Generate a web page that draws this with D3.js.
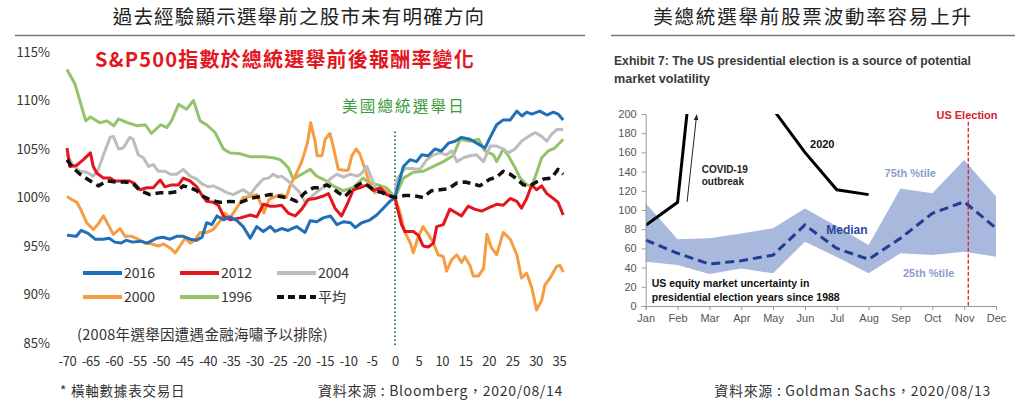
<!DOCTYPE html>
<meta charset="utf-8">
<style>
body { margin: 0; background: #fff; }
svg { display: block; }
.cjk { font-family: "Noto Sans CJK TC", "Noto Sans", sans-serif; }
.arial { font-family: "Liberation Sans", Arial, sans-serif; }
.narrow { font-family: "Liberation Sans Narrow", "Liberation Sans", Arial, sans-serif; }
.lax text { font-family: "Noto Sans CJK TC", sans-serif; font-size: 13px; fill: #333; }
.rax text { font-family: "Liberation Sans", Arial, sans-serif; font-size: 11px; fill: #555; }
.rax path, .rax line { stroke: #999; }
</style>
<body>
<script src="https://cdnjs.cloudflare.com/ajax/libs/d3/7.8.5/d3.min.js"></script>
<script>
// ---- left chart: S&P500 around election day (day, % of election-day level)
var s2016 = [[-70,96.1],[-68,96.0],[-67,96.6],[-65.5,96.3],[-64,95.7],[-62.3,95.7],[-61,95.8],[-59.8,95.4],[-58.4,95.3],[-57.4,95.6],[-56,95.4],[-54.3,95.5],[-52.9,95.3],[-50.9,95.8],[-49.5,95.9],[-48,95.7],[-46.6,96.0],[-45.2,96.0],[-43.7,95.7],[-42.3,95.6],[-41.2,95.9],[-40.2,97.4],[-39.1,97.2],[-38,98.1],[-36.6,97.7],[-35.2,98.0],[-33.7,97.6],[-32.4,97.0],[-30.9,95.8],[-29.5,97.0],[-28.1,96.5],[-26.6,97.0],[-25.6,96.5],[-24.2,96.8],[-22.8,96.6],[-21,97.0],[-19.2,96.4],[-18.1,97.6],[-16.7,97.5],[-15.3,97.9],[-13.8,98.1],[-12.4,97.2],[-11,97.5],[-9.5,97.4],[-8.5,96.9],[-7.1,97.4],[-5.3,97.7],[-3.9,98.2],[-2.5,98.9],[-1.1,99.6],[0,100],
  [0.4,100.8],[1.8,103.2],[3.2,103.9],[4.6,103.7],[5.7,104.4],[7.1,104.3],[8.5,105.0],[9.9,104.8],[11.4,105.6],[12.8,105.8],[14.2,106.2],[16,106.0],[17.8,105.5],[19.2,105.1],[20.3,106.2],[21.7,107.5],[23.1,108.0],[24.6,108.0],[26,108.9],[27.1,108.4],[28.1,108.8],[29.2,108.6],[30.9,108.9],[32.4,108.5],[33.8,108.8],[34.8,108.6],[35.9,108.0]];
var s2012 = [[-70,105.1],[-69.4,103.2],[-68,103.3],[-66.5,103.9],[-65,104.6],[-64.4,103.2],[-63.6,102.5],[-62.2,102.0],[-60.8,102.0],[-59.8,101.7],[-58,101.7],[-56.6,101.7],[-55.5,101.4],[-54.4,100.8],[-53,101.0],[-51.6,101.0],[-50.1,101.8],[-49.1,101.1],[-47.7,101.3],[-46.2,101.3],[-45.2,102.0],[-43.7,101.7],[-42.3,101.1],[-41.3,100.3],[-40.2,99.6],[-38.8,99.5],[-37.7,99.2],[-36.6,98.1],[-35.2,97.7],[-33,97.9],[-30.9,98.2],[-29.5,98.0],[-28.1,99.3],[-26.6,99.1],[-25.6,99.1],[-24.2,99.2],[-22.8,98.4],[-21.3,98.1],[-19.9,98.8],[-18.5,99.8],[-17,99.9],[-15.6,100.1],[-14.2,100.4],[-12.8,98.9],[-11.4,98.1],[-10.3,99.2],[-8.9,100.8],[-7.5,101.0],[-6,101.3],[-4.6,100.7],[-3.2,101.0],[-1.8,100.3],[0,100],
  [0.4,99.1],[1.4,97.2],[2.1,96.5],[3.9,96.5],[5,96.1],[6,95.0],[7.1,94.9],[8.2,95.3],[8.9,97.0],[10.3,97.2],[11.7,98.8],[13.1,98.4],[14.2,98.1],[15.6,99.1],[17,98.8],[18.5,98.6],[20.3,99.0],[21.7,99.3],[23.1,99.2],[24.6,99.9],[26,99.6],[27,98.9],[28.1,99.9],[29.2,101.3],[30.2,100.8],[31.3,101.2],[32.4,100.4],[33.8,99.9],[34.8,99.5],[35.9,98.2]];
var s2004 = [[-70,104.4],[-68.8,103.4],[-67.2,102.7],[-65.8,102.6],[-64.4,102.2],[-63.3,102.9],[-62.2,104.4],[-60.8,106.2],[-60.1,106.3],[-59,105.0],[-58,105.1],[-56.6,106.2],[-55.9,106.0],[-54.8,104.4],[-53.7,104.1],[-52.6,103.2],[-51.6,103.4],[-50.5,102.7],[-49,102.7],[-48,102.4],[-46.6,102.4],[-45.2,102.9],[-43.7,102.2],[-42.3,101.9],[-41.2,101.4],[-39.8,101.1],[-38.8,101.2],[-37.4,100.9],[-35.9,100.5],[-34.5,100.3],[-33.7,100.5],[-32.4,100.8],[-30.9,100.3],[-29.5,101.2],[-28.1,101.9],[-27,102.0],[-26,102.4],[-25,102.1],[-24.2,102.2],[-22.8,101.7],[-21.3,101.0],[-20.3,100.5],[-19.2,99.5],[-17.8,100.1],[-16.3,100.7],[-14.9,101.2],[-13.9,101.9],[-12.4,102.4],[-11,102.1],[-9.5,102.4],[-8,102.2],[-7.1,102.5],[-6,103.2],[-5,102.0],[-3.9,100.7],[-2.5,100.5],[-1.1,100.3],[0,100],
  [0.4,101.9],[2.1,103.0],[3.6,103.0],[5.3,102.9],[6.8,103.9],[8.2,104.4],[9.6,104.6],[11,104.4],[12.1,104.8],[13.2,103.7],[14.6,104.1],[16,104.3],[17.4,104.4],[18.9,103.7],[20.3,105.3],[21.7,105.3],[23.1,105.0],[24.2,104.6],[25.6,105.0],[27,105.8],[28.5,106.3],[29.9,106.7],[31.3,106.3],[32.4,105.8],[33.4,106.5],[34.5,107.0],[35.9,107.0]];
var s2000 = [[-70,100.1],[-69,99.8],[-67.9,99.5],[-67.2,98.9],[-65.8,97.4],[-64.4,96.7],[-63.3,97.3],[-62.2,98.1],[-61.1,97.1],[-60.1,96.2],[-58.7,96.8],[-57.6,96.0],[-56.2,96.0],[-54.8,95.7],[-53.3,95.3],[-51.9,95.2],[-50.5,95.0],[-49.4,95.2],[-48,94.8],[-46.9,94.3],[-45.9,95.0],[-44.8,95.8],[-43.7,95.3],[-42.7,95.6],[-41.6,96.4],[-40.2,96.4],[-38.8,96.7],[-37.3,97.6],[-36.3,98.4],[-35.2,97.9],[-33.8,98.9],[-32.4,100.0],[-30.9,100.1],[-29.5,100.3],[-28.4,99.1],[-28,98.4],[-26.9,99.8],[-25.6,100.1],[-24.2,100.3],[-23.2,100.0],[-22.4,101.2],[-21.3,102.2],[-19.9,103.7],[-18.7,105.6],[-18,107.7],[-17.1,105.9],[-16.6,104.3],[-15.6,104.3],[-14.9,106.0],[-13.9,106.6],[-13.2,105.3],[-12.1,102.9],[-11,102.8],[-10,102.8],[-9.2,104.3],[-8.3,105.0],[-7.5,104.5],[-6.4,102.9],[-5.3,101.3],[-4.3,100.5],[-3.2,101.0],[-2.1,100.7],[-1.1,100.2],[0,100],
  [1.1,98.4],[2.1,96.4],[3.2,95.4],[3.9,94.3],[5,96.0],[6,97.0],[7.1,96.2],[8.2,95.3],[9.2,94.1],[10.3,93.9],[11,92.4],[12.1,93.6],[13.2,94.1],[14.2,93.3],[14.9,93.9],[16,93.0],[16.7,91.9],[17.8,91.9],[18.9,92.7],[19.6,96.2],[20.6,94.8],[21.7,94.1],[23.1,96.4],[24.6,95.7],[26,94.1],[27,91.7],[28.1,92.2],[29.2,90.7],[30.2,88.4],[31.3,89.4],[32,91.0],[33.1,91.7],[34.5,92.9],[35.2,93.0],[35.9,92.3]];
var s1996 = [[-70,113.2],[-68.3,111.7],[-66,107.9],[-65,108.3],[-63,107.7],[-61.5,107.9],[-60,107.4],[-59,108.1],[-57,107.7],[-55,107.4],[-53.3,107.5],[-52,106.6],[-50,107.5],[-48.7,107.2],[-47.7,107.9],[-46.2,109.6],[-44.5,109.1],[-43,110.0],[-41.6,107.9],[-40.2,107.5],[-38.4,106.7],[-36.6,105.0],[-35.2,104.6],[-33,104.5],[-30.9,104.2],[-28,104.2],[-26,104.1],[-24.5,103.9],[-22.8,103.1],[-21.7,101.9],[-20.3,102.3],[-18.1,102.9],[-16.7,102.2],[-14.6,101.7],[-13.2,101.2],[-11.1,100.7],[-9,101.0],[-6.8,102.0],[-5.4,101.5],[-3.6,101.3],[-1.8,101.0],[0,100],
  [1.8,102.0],[3.9,102.6],[6,102.7],[8.2,103.2],[10.3,103.7],[12.4,104.3],[13.9,106.0],[16,105.8],[17.8,106.0],[19.2,104.8],[21,104.4],[21.7,103.7],[23.1,105.0],[24.2,104.3],[25.6,103.1],[26.7,102.0],[28.1,101.3],[29.2,101.2],[30.2,102.5],[31.3,104.1],[32.7,104.8],[34.1,105.1],[35.9,106.0]];
var sAvg = [[-70,103.9],[-68.8,103.1],[-67.2,102.4],[-65,101.7],[-63.3,101.2],[-61.5,101.7],[-59.5,101.6],[-57.7,101.6],[-56,101.5],[-54.4,100.7],[-52.3,100.3],[-50,100.5],[-48,100.5],[-46.6,100.6],[-45.2,101.2],[-43.7,101.0],[-42.3,100.7],[-40.9,100.1],[-39.1,99.7],[-37.3,99.5],[-35.2,99.6],[-33,99.5],[-30.9,99.9],[-28.8,100.1],[-26.6,100.3],[-24.5,100.1],[-22.4,99.9],[-21,99.6],[-19.2,100.5],[-17.4,101.0],[-16,101.0],[-14.6,101.3],[-13.4,101.0],[-12.1,100.5],[-10.7,100.1],[-8.9,101.0],[-7.1,101.5],[-5.7,101.2],[-4.3,100.7],[-2.8,100.5],[-1.4,100.2],[0,100],
  [2.1,100.2],[4,100.2],[6,100.0],[7.8,100.7],[9.6,100.8],[11.4,100.9],[13.2,101.5],[15,101.6],[16.7,101.4],[18.1,101.2],[20.3,101.9],[21.7,102.1],[23.1,102.7],[24.6,102.4],[26,101.9],[27.4,101.3],[28.8,101.2],[30.2,101.6],[31.7,101.9],[33.4,102.0],[34.8,102.9],[35.9,102.4]];

var leftSeries = [
  {name: "1996", values: s1996, color: "#93c36b"},
  {name: "2000", values: s2000, color: "#f59d40"},
  {name: "2004", values: s2004, color: "#bdbdbd"},
  {name: "2012", values: s2012, color: "#e3161d"},
  {name: "2016", values: s2016, color: "#1f70b8"},
  {name: "平均", values: sAvg, color: "#111", dash: "8,5"}
];
var legendOrder = ["2016", "2012", "2004", "2000", "1996", "平均"];
var leftYTicks = [85, 90, 95, 100, 105, 110, 115];
var leftXTicks = d3.range(-70, 36, 5);

// ---- right chart: US equity market uncertainty by month
var months = ["Jan","Feb","Mar","Apr","May","Jun","Jul","Aug","Sep","Oct","Nov","Dec"];
var p75 = [107, 69.5, 70.5, 75.5, 81, 101.5, 83, 63.5, 122.5, 117.5, 152, 114];
var p25 = [46, 42.7, 33.3, 39, 34, 67, 51, 34, 55, 53, 56.6, 51.4];
var median = [68.7, 54.9, 43.7, 47.2, 53, 84.4, 60, 48.6, 70.5, 96.5, 108.6, 81];
var y2020 = [84, 108, 420, 300, 205, 160, 121, 116];
var rightYTicks = d3.range(0, 201, 20);

var svg = d3.select("body").append("svg")
    .attr("width", 1024)
    .attr("height", 403);

// titles + rules
svg.append("text").attr("class", "cjk")
    .attr("x", 299).attr("y", 24).attr("text-anchor", "middle")
    .style("font-size", "19.5px").style("letter-spacing", "1.2px").style("fill", "#222")
    .text("過去經驗顯示選舉前之股市未有明確方向");
svg.append("text").attr("class", "cjk")
    .attr("x", 813).attr("y", 24).attr("text-anchor", "middle")
    .style("font-size", "19.5px").style("letter-spacing", "1.8px").style("fill", "#222")
    .text("美總統選舉前股票波動率容易上升");
svg.append("line").attr("x1", 15).attr("x2", 585).attr("y1", 35.5).attr("y2", 35.5)
    .style("stroke", "#777").style("stroke-width", 1.5);
svg.append("line").attr("x1", 611).attr("x2", 1015).attr("y1", 35.5).attr("y2", 35.5)
    .style("stroke", "#777").style("stroke-width", 1.5);

// ================= left chart =================
var x = d3.scaleLinear().domain([-70, 35]).range([67, 559]);
var y = d3.scaleLinear().domain([85, 115]).range([343, 52]);

var lg = svg.append("g");

lg.append("g").attr("class", "lax")
    .attr("transform", "translate(53,0)")
    .call(d3.axisLeft(y).tickValues(leftYTicks).tickSize(0).tickPadding(3).tickFormat(function(d) { return d + "%"; }))
    .call(function(g) { g.select(".domain").remove(); });

lg.append("g").attr("class", "lax")
    .attr("transform", "translate(0,348)")
    .call(d3.axisBottom(x).tickValues(leftXTicks).tickSize(0).tickPadding(9).tickFormat(function(d) { return String(d); }))
    .call(function(g) { g.select(".domain").remove(); g.selectAll("text").style("letter-spacing", "-0.3px"); });

// election day marker
lg.append("line")
    .attr("x1", x(0)).attr("x2", x(0))
    .attr("y1", y(106.8)).attr("y2", y(84.8))
    .style("stroke", "#2e8b3a").style("stroke-width", 2).style("stroke-dasharray", "1.5,2.5");

var line = d3.line().x(function(d) { return x(d[0]); }).y(function(d) { return y(d[1]); });

lg.selectAll(".series")
    .data(leftSeries)
  .enter().append("path")
    .attr("class", "series")
    .attr("d", function(d) { return line(d.values); })
    .style("fill", "none")
    .style("stroke", function(d) { return d.color; })
    .style("stroke-width", function(d) { return d.dash ? 3.5 : 3; })
    .style("stroke-dasharray", function(d) { return d.dash || null; })
    .style("stroke-linejoin", "round");

lg.append("text").attr("class", "cjk")
    .attr("x", 95).attr("y", 67)
    .style("font-size", "20px").style("font-weight", "bold").style("fill", "#e3161d")
    .style("letter-spacing", "1.2px")
    .text("S&P500指數於總統選舉前後報酬率變化");
lg.append("text").attr("class", "cjk")
    .attr("x", 342).attr("y", 112)
    .style("font-size", "15.5px").style("fill", "#3a9b3a").style("letter-spacing", "2.2px")
    .text("美國總統選舉日");

// legend
var leg = lg.selectAll(".leg")
    .data(legendOrder.map(function(n) { return leftSeries.find(function(s) { return s.name === n; }); }))
  .enter().append("g")
    .attr("class", "leg")
    .attr("transform", function(d, i) { return "translate(" + (83 + (i % 3) * 97) + "," + (273 + Math.floor(i / 3) * 24) + ")"; });
leg.append("line")
    .attr("x1", 0).attr("x2", 39)
    .style("stroke", function(d) { return d.color; })
    .style("stroke-width", 4)
    .style("stroke-dasharray", function(d) { return d.dash ? "7,4" : null; });
leg.append("text").attr("class", "cjk")
    .attr("x", 41).attr("y", 5)
    .style("font-size", "14px").style("fill", "#333")
    .text(function(d) { return d.name; });

lg.append("text").attr("class", "cjk")
    .attr("x", 77).attr("y", 340)
    .style("font-size", "14.5px").style("fill", "#333").style("letter-spacing", "0.3px")
    .text("(2008年選舉因遭遇金融海嘯予以排除)");

svg.append("text").attr("class", "cjk")
    .attr("x", 60).attr("y", 396)
    .style("font-size", "13.5px").style("fill", "#333").style("letter-spacing", "0.8px")
    .text("* 橫軸數據表交易日");
svg.append("text").attr("class", "cjk")
    .attr("x", 563).attr("y", 396).attr("text-anchor", "end")
    .style("font-size", "14px").style("fill", "#333").style("letter-spacing", "0.7px")
    .text("資料來源 : Bloomberg，2020/08/14");

// ================= right chart =================
var xr = d3.scaleLinear().domain([0, 11]).range([645.7, 996]);
var yr = d3.scaleLinear().domain([0, 200]).range([306, 114]);

var rg = svg.append("g");

rg.append("text").attr("class", "narrow")
    .attr("x", 614).attr("y", 65)
    .attr("textLength", 357).attr("lengthAdjust", "spacingAndGlyphs")
    .style("font-size", "12.5px").style("font-weight", "bold").style("fill", "#3a3a3a")
    .text("Exhibit 7: The US presidential election is a source of potential");
rg.append("text").attr("class", "narrow")
    .attr("x", 614).attr("y", 83)
    .attr("textLength", 96).attr("lengthAdjust", "spacingAndGlyphs")
    .style("font-size", "12.5px").style("font-weight", "bold").style("fill", "#3a3a3a")
    .text("market volatility");

var band = d3.area()
    .x(function(d, i) { return xr(i); })
    .y0(function(d, i) { return yr(p25[i]); })
    .y1(function(d, i) { return yr(p75[i]); });
rg.append("path")
    .attr("d", band(months))
    .style("fill", "#a9b8dd");

var mline = d3.line().x(function(d, i) { return xr(i); }).y(function(d) { return yr(d); });
rg.append("path")
    .attr("d", mline(median))
    .style("fill", "none").style("stroke", "#1f3c98").style("stroke-width", 3)
    .style("stroke-dasharray", "9,5");

rg.append("clipPath").attr("id", "rclip")
  .append("rect")
    .attr("x", xr(0)).attr("y", yr(200))
    .attr("width", xr(11) - xr(0) + 10).attr("height", yr(0) - yr(200));
rg.append("path")
    .attr("clip-path", "url(#rclip)")
    .attr("d", mline(y2020))
    .style("fill", "none").style("stroke", "#000").style("stroke-width", 3);

// election marker
rg.append("line")
    .attr("x1", xr(10.13)).attr("x2", xr(10.13))
    .attr("y1", yr(192)).attr("y2", yr(0))
    .style("stroke", "#e0202a").style("stroke-width", 1.3).style("stroke-dasharray", "4,2");

rg.append("g").attr("class", "rax")
    .attr("transform", "translate(" + xr(0) + ",0)")
    .call(d3.axisLeft(yr).tickValues(rightYTicks).tickSize(4).tickPadding(5));
rg.append("g").attr("class", "rax")
    .attr("transform", "translate(0," + yr(0) + ")")
    .call(d3.axisBottom(xr).tickValues(d3.range(0, 12)).tickSize(4).tickPadding(4)
      .tickFormat(function(d) { return months[d]; }));

// covid arrow
rg.append("defs").append("marker")
    .attr("id", "arrow").attr("viewBox", "0 0 10 10")
    .attr("refX", 9).attr("refY", 5)
    .attr("markerWidth", 6).attr("markerHeight", 6).attr("orient", "auto")
  .append("path").attr("d", "M0,1L10,5L0,9Z").style("fill", "#222");
rg.append("line")
    .attr("x1", xr(1.3)).attr("y1", yr(108.5))
    .attr("x2", xr(1.6)).attr("y2", yr(199))
    .style("stroke", "#222").style("stroke-width", 1)
    .attr("marker-end", "url(#arrow)");

function rtext(t, xv, yv, size, color, weight) {
  return rg.append("text").attr("class", "arial")
      .attr("x", xr(xv)).attr("y", yr(yv))
      .style("font-size", size + "px").style("fill", color).style("font-weight", weight)
      .text(t);
}
rtext("COVID-19", 1.76, 139, 10, "#222", "bold");
rtext("outbreak", 1.76, 126, 10, "#222", "bold");
rtext("2020", 5.16, 165, 11, "#111", "bold");
rtext("Median", 5.67, 75, 12, "#2c4a9f", "bold");
rtext("75th %tile", 7.5, 134, 11, "#8b9dc9", "bold");
rtext("25th %tile", 8.08, 30, 11, "#8b9dc9", "bold");
rtext("US equity market uncertainty in", 0.19, 20, 10.5, "#111", "bold");
rtext("presidential election years since 1988", 0.19, 5, 10.5, "#111", "bold");
rtext("US Election", 9.13, 195, 11, "#d9202a", "bold");

svg.append("text").attr("class", "cjk")
    .attr("x", 991).attr("y", 396).attr("text-anchor", "end")
    .style("font-size", "14px").style("fill", "#333").style("letter-spacing", "0.7px")
    .text("資料來源 : Goldman Sachs，2020/08/13");
</script>
</body>
